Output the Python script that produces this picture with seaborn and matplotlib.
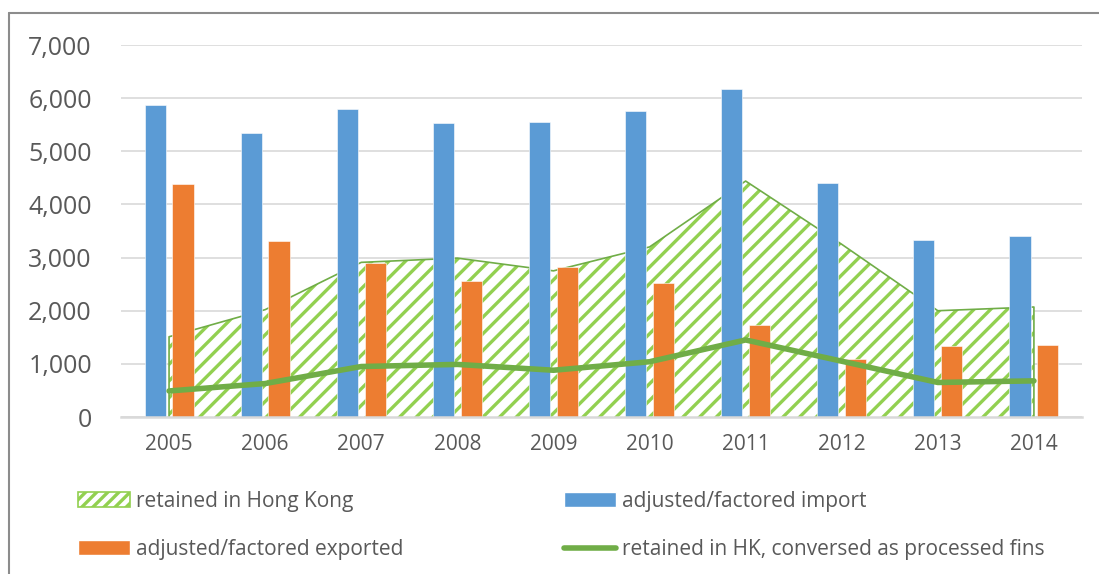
import numpy as np
import pandas as pd
import seaborn as sns
import matplotlib.pyplot as plt
from matplotlib.patches import Patch
from matplotlib.lines import Line2D

years = ['2005', '2006', '2007', '2008', '2009', '2010', '2011', '2012', '2013', '2014']
imported = [5880, 5340, 5800, 5530, 5560, 5760, 6170, 4400, 3330, 3410]
exported = [4390, 3310, 2890, 2550, 2820, 2530, 1730, 1090, 1340, 1350]
retained = [1510, 2020, 2910, 2990, 2750, 3200, 4440, 3250, 2000, 2070]
processed = [490, 630, 950, 990, 880, 1040, 1450, 1050, 650, 680]

blue = '#5B9BD5'
orange = '#ED7D31'
green = '#70AD47'
hatch_green = '#92D050'
txt = '#595959'
grid = '#D9D9D9'

sns.set_style('white')
plt.rcParams['font.family'] = ['Open Sans', 'DejaVu Sans']
plt.rcParams['hatch.linewidth'] = 2.4

df = pd.DataFrame({
    'year': years * 2,
    'value': imported + exported,
    'series': ['adjusted/factored import'] * 10 + ['adjusted/factored exported'] * 10,
})

fig = plt.figure(figsize=(10.99, 5.74), dpi=100)
ax = fig.add_axes([0.1101, 0.2735, 0.8744, 0.6481])

x = np.arange(len(years))
# hatched area behind the bars
ax.fill_between(x, 0, retained, facecolor='white', edgecolor=hatch_green,
                hatch='//', linewidth=0, zorder=1)
ax.plot(np.r_[x[0], x, x[-1]], np.r_[0, retained, 0], color=green, lw=1.2, zorder=1.5)

sns.barplot(data=df, x='year', y='value', hue='series', palette=[blue, orange],
            saturation=1, width=0.58, gap=0.24, ax=ax, zorder=2, legend=False,
            edgecolor='white', linewidth=0.4)

sns.lineplot(x=x, y=processed, color=green, lw=4, ax=ax, zorder=3)

ax.set_xlim(-0.5, 9.5)
ax.set_ylim(0, 7000)
ax.set_yticks(range(0, 7001, 1000))
ax.set_yticklabels([f'{v:,}' for v in range(0, 7001, 1000)])
ax.set_xticks(x)
ax.set_xticklabels(years)
ax.set_xlabel('')
ax.set_ylabel('')
ax.yaxis.grid(True, color=grid, lw=1.2, zorder=0)
ax.set_axisbelow(True)
for s in ['top', 'right', 'left']:
    ax.spines[s].set_visible(False)
ax.spines['bottom'].set_color(grid)
ax.spines['bottom'].set_linewidth(1.8)
ax.spines['bottom'].set_zorder(4)
ax.tick_params(axis='y', length=0, pad=21, labelsize=18, labelcolor=txt)
ax.tick_params(axis='x', length=0, pad=12, labelsize=15, labelcolor=txt)

handles = [
    Patch(facecolor='white', edgecolor=hatch_green, hatch='///', linewidth=1.2),
    Patch(facecolor=orange),
    Patch(facecolor=blue),
    Line2D([], [], color=green, lw=4, solid_capstyle='round'),
]
labels = ['retained in Hong Kong', 'adjusted/factored exported',
          'adjusted/factored import', 'retained in HK, conversed as processed fins']
leg = fig.legend(handles, labels, ncol=2, loc='upper left',
                 bbox_to_anchor=(0.071, 0.1446), frameon=False,
                 fontsize=15, labelcolor=txt, handlelength=2.5, handleheight=0.7,
                 handletextpad=0.3, columnspacing=7.7, labelspacing=1.3,
                 borderaxespad=0, borderpad=0)

# outer chart border (left and top)
fig.add_artist(Line2D([9 / 1099, 9 / 1099], [0, 1 - 13 / 574], color='#8C8C8C', lw=1.5))
fig.add_artist(Line2D([9 / 1099, 1], [1 - 13 / 574, 1 - 13 / 574], color='#8C8C8C', lw=1.5))

fig.savefig('out.png', dpi=100)
